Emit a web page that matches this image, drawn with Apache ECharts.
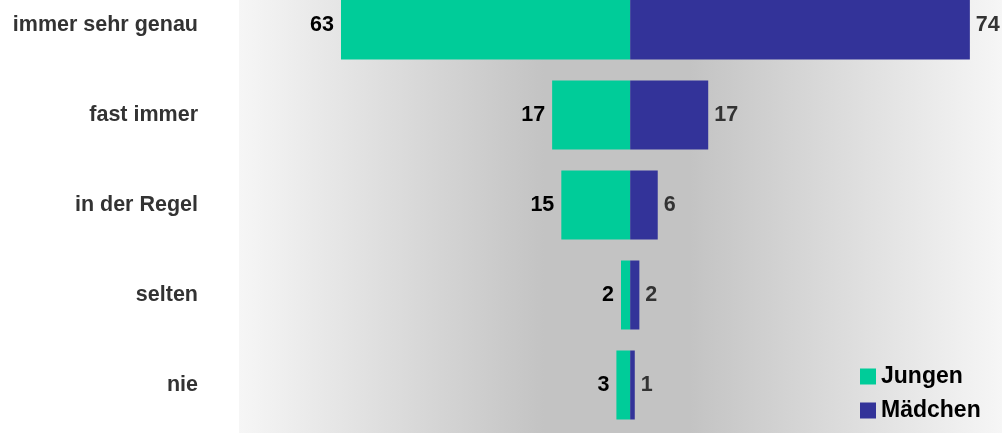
<!DOCTYPE html>
<html>
<head>
<meta charset="utf-8">
<script src="https://cdn.jsdelivr.net/npm/echarts@6/dist/echarts.min.js"></script>
<style>
  html, body { margin: 0; padding: 0; background: #fff; }
  #chart { width: 1002px; height: 433px; }
</style>
</head>
<body>
<div id="chart"></div>
<script>
// answer categories, top to bottom
const categories = ['immer sehr genau', 'fast immer', 'in der Regel', 'selten', 'nie'];
// percentages per group
const jungen = [63, 17, 15, 2, 3];
const maedchen = [74, 17, 6, 2, 1];

const chart = echarts.init(document.getElementById('chart'));

const labelFont = 'Liberation Sans, Arial, sans-serif';

const option = {
  animation: false,
  // plot background with the grey band in the middle
  graphic: [
    {
      type: 'rect',
      left: 239,
      top: 0,
      shape: { width: 763, height: 433 },
      z: -10,
      silent: true,
      style: {
        fill: new echarts.graphic.LinearGradient(0, 0, 1, 0, [
          { offset: 0, color: '#f6f6f6' },
          { offset: 0.4, color: '#c3c3c3' },
          { offset: 0.59, color: '#c3c3c3' },
          { offset: 1, color: '#f6f6f6' }
        ])
      }
    }
  ],
  legend: {
    orient: 'vertical',
    left: 855,
    top: 360,
    itemWidth: 16,
    itemHeight: 16,
    itemGap: 11,
    icon: 'rect',
    textStyle: {
      fontFamily: labelFont,
      fontSize: 23,
      fontWeight: 'bold',
      color: '#000'
    },
    data: ['Jungen', 'Mädchen']
  },
  grid: {
    left: 240,
    right: 0,
    top: -20,
    height: 450,
    outerBoundsMode: 'none'
  },
  xAxis: {
    type: 'value',
    min: -85,
    max: 81,
    show: false
  },
  yAxis: {
    type: 'category',
    inverse: true,
    data: categories,
    axisLine: { show: false },
    axisTick: { show: false },
    axisLabel: {
      margin: 42,
      fontFamily: labelFont,
      fontSize: 21.5,
      fontWeight: 'bold',
      color: '#333'
    }
  },
  series: [
    {
      name: 'Jungen',
      type: 'bar',
      stack: 'total',
      barWidth: 69,
      data: jungen.map(v => -v),
      itemStyle: { color: '#00cc99' },
      label: {
        show: true,
        position: 'left',
        distance: 7,
        formatter: p => Math.abs(p.value),
        fontFamily: labelFont,
        fontSize: 21.5,
        fontWeight: 'bold',
        color: '#000'
      }
    },
    {
      name: 'Mädchen',
      type: 'bar',
      stack: 'total',
      barWidth: 69,
      data: maedchen,
      itemStyle: { color: '#333399' },
      label: {
        show: true,
        position: 'right',
        distance: 6,
        fontFamily: labelFont,
        fontSize: 21.5,
        fontWeight: 'bold',
        color: '#333'
      }
    }
  ]
};

chart.setOption(option);
</script>
</body>
</html>
